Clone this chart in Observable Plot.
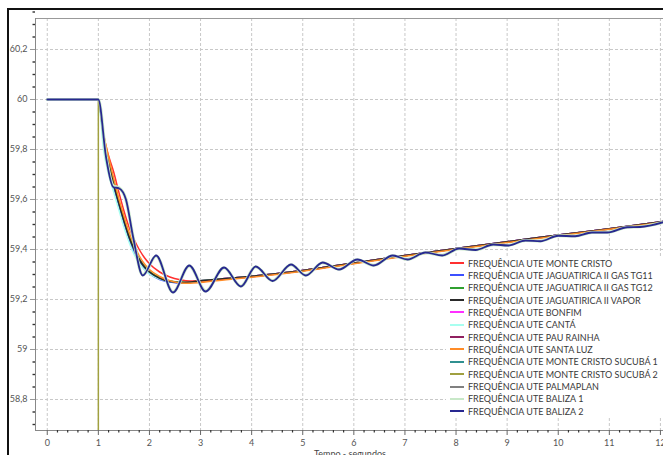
<!DOCTYPE html>
<html>
<head>
<meta charset="utf-8">
<script src="https://cdn.jsdelivr.net/npm/d3@7"></script>
<script src="https://cdn.jsdelivr.net/npm/@observablehq/plot@0.6"></script>
<style>
  html, body { margin: 0; padding: 0; background: #fff; }
  body { width: 663px; height: 455px; overflow: hidden; position: relative; font-family: Lato, "Open Sans", sans-serif; }
  #frame { position: absolute; left: 7px; top: 8px; width: 720px; height: 520px; border-left: 2px solid #111; border-top: 2px solid #111; }
  #chart { position: absolute; left: 0; top: 0; }
  #legend { position: absolute; left: 446px; top: 256px; width: 230px; height: 162px; background: #fff; }
  .row { position: absolute; left: 0; height: 12px; display: flex; align-items: center; white-space: nowrap; font-size: 9px; color: #3a3a3a; }
  .sw { width: 14px; height: 2px; margin-left: 4px; margin-right: 4px; }
  #xtitle { position: absolute; left: 300px; width: 100px; top: 449px; text-align: center; font-size: 9px; line-height: 10px; color: #444; }
</style>
</head>
<body>
<div id="frame"></div>
<div id="chart"></div>
<div id="legend"></div>
<div id="xtitle">Tempo - segundos</div>
<script>
// ---- Data ----
const seriesNames = [
  "FREQUÊNCIA UTE MONTE CRISTO",
  "FREQUÊNCIA UTE JAGUATIRICA II GAS TG11",
  "FREQUÊNCIA UTE JAGUATIRICA II GAS TG12",
  "FREQUÊNCIA UTE JAGUATIRICA II VAPOR",
  "FREQUÊNCIA UTE BONFIM",
  "FREQUÊNCIA UTE CANTÁ",
  "FREQUÊNCIA UTE PAU RAINHA",
  "FREQUÊNCIA UTE SANTA LUZ",
  "FREQUÊNCIA UTE MONTE CRISTO SUCUBÁ 1",
  "FREQUÊNCIA UTE MONTE CRISTO SUCUBÁ 2",
  "FREQUÊNCIA UTE PALMAPLAN",
  "FREQUÊNCIA UTE BALIZA 1",
  "FREQUÊNCIA UTE BALIZA 2"
];
const seriesColors = ["#ff3030", "#3c50ff", "#30a030", "#2a2a2a", "#ff30ff", "#a8fff0", "#902060",
  "#ff8c28", "#309090", "#a0a040", "#808080", "#c8e8c8", "#282890"];

const tMain = [0, 1, 1.1, 1.2, 1.3, 1.4, 1.5, 1.6, 1.7, 1.8, 1.9, 2.0, 2.2, 2.4, 2.6, 2.8, 3.0, 3.5, 4, 5, 6, 7, 8, 9, 10, 11, 12.1];
const monteCristo = [60, 60, 59.86, 59.775, 59.71, 59.63, 59.555, 59.49, 59.44, 59.4, 59.368, 59.343, 59.31, 59.29, 59.279, 59.274, 59.274, 59.282, 59.291, 59.315, 59.345, 59.375, 59.403, 59.43, 59.457, 59.482, 59.512];
const jagTG11 = [60, 60, 59.84, 59.74, 59.65, 59.575, 59.505, 59.44, 59.39, 59.35, 59.322, 59.303, 59.28, 59.27, 59.266, 59.268, 59.273, 59.282, 59.291, 59.315, 59.345, 59.375, 59.403, 59.43, 59.457, 59.482, 59.512];
const jagTG12 = [60, 60, 59.855, 59.76, 59.67, 59.59, 59.52, 59.455, 59.405, 59.363, 59.333, 59.312, 59.287, 59.274, 59.27, 59.271, 59.275, 59.283, 59.292, 59.315, 59.345, 59.375, 59.403, 59.43, 59.457, 59.482, 59.512];
const jagVapor = [60, 60, 59.85, 59.75, 59.66, 59.585, 59.515, 59.45, 59.4, 59.36, 59.33, 59.31, 59.285, 59.272, 59.268, 59.27, 59.275, 59.284, 59.293, 59.316, 59.346, 59.376, 59.404, 59.431, 59.458, 59.483, 59.513];
const bonfim = [60, 60, 59.85, 59.75, 59.66, 59.585, 59.515, 59.45, 59.4, 59.36, 59.33, 59.31, 59.285, 59.272, 59.268, 59.27, 59.275, 59.284, 59.293, 59.316, 59.346, 59.376, 59.404, 59.431, 59.458, 59.483, 59.513];
const canta = [60, 60, 59.8, 59.7, 59.63, 59.56, 59.49, 59.43, 59.38, 59.345, 59.32, 59.302, 59.282, 59.272, 59.268, 59.27, 59.275, 59.283, 59.292, 59.315, 59.345, 59.375, 59.403, 59.43, 59.457, 59.482, 59.512];
const pauRainha = [60, 60, 59.85, 59.752, 59.662, 59.587, 59.517, 59.452, 59.402, 59.362, 59.332, 59.311, 59.286, 59.273, 59.269, 59.27, 59.275, 59.284, 59.293, 59.316, 59.346, 59.376, 59.404, 59.431, 59.458, 59.483, 59.513];
const santaLuz = [60, 60, 59.865, 59.77, 59.685, 59.605, 59.535, 59.47, 59.418, 59.375, 59.343, 59.32, 59.292, 59.275, 59.266, 59.265, 59.268, 59.279, 59.289, 59.313, 59.343, 59.373, 59.401, 59.428, 59.455, 59.481, 59.51];
const sucuba1 = [60, 60, 59.848, 59.748, 59.658, 59.583, 59.513, 59.448, 59.398, 59.358, 59.329, 59.309, 59.284, 59.272, 59.268, 59.27, 59.275, 59.284, 59.293, 59.316, 59.346, 59.376, 59.404, 59.431, 59.458, 59.483, 59.513];
const palmaplan = [60, 60, 59.85, 59.75, 59.66, 59.585, 59.515, 59.45, 59.4, 59.36, 59.33, 59.31, 59.285, 59.272, 59.268, 59.27, 59.275, 59.284, 59.293, 59.316, 59.346, 59.376, 59.404, 59.431, 59.458, 59.483, 59.513];

const tSucuba2 = [0, 1, 1];
const sucuba2 = [60, 60, 57];

const tBaliza = [0, 1, 1.15, 1.29, 1.41, 1.54, 1.68, 1.87, 2.13, 2.46, 2.78, 3.1, 3.46, 3.79, 4.08, 4.41, 4.77, 5.06, 5.39, 5.71, 6.07, 6.39, 6.76, 7.05, 7.4, 7.73, 8.06, 8.38, 8.73, 9.02, 9.36, 9.65, 10.0, 10.33, 10.66, 10.96, 11.35, 11.6, 12.1];
const baliza1 = [60, 60, 59.775, 59.655, 59.646, 59.6, 59.45, 59.298, 59.374, 59.23, 59.334, 59.234, 59.327, 59.253, 59.331, 59.275, 59.339, 59.297, 59.347, 59.321, 59.359, 59.337, 59.375, 59.361, 59.387, 59.377, 59.403, 59.399, 59.419, 59.417, 59.436, 59.434, 59.455, 59.454, 59.468, 59.469, 59.489, 59.491, 59.511];
const baliza2 = [60, 60, 59.77, 59.65, 59.644, 59.6, 59.45, 59.296, 59.376, 59.228, 59.336, 59.232, 59.328, 59.252, 59.332, 59.274, 59.34, 59.296, 59.348, 59.32, 59.36, 59.336, 59.376, 59.36, 59.388, 59.376, 59.404, 59.398, 59.42, 59.416, 59.436, 59.433, 59.455, 59.453, 59.468, 59.468, 59.489, 59.49, 59.512];

const seriesData = [
  [tMain, monteCristo], [tMain, jagTG11], [tMain, jagTG12], [tMain, jagVapor], [tMain, bonfim],
  [tMain, canta], [tMain, pauRainha], [tMain, santaLuz], [tMain, sucuba1], [tSucuba2, sucuba2],
  [tMain, palmaplan], [tBaliza, baliza1], [tBaliza, baliza2]
];
// order in which the curves are painted (hidden ones first, visible ones on top)
const drawOrder = [10, 8, 6, 4, 1, 2, 5, 0, 3, 7, 9, 11, 12];

const xMajor = [0, 1, 2, 3, 4, 5, 6, 7, 8, 9, 10, 11, 12];
const xMinor = d3.range(0, 61).map(i => i / 5).filter(v => Math.abs(v - Math.round(v)) > 1e-9);
const yMajor = [58.8, 59, 59.2, 59.4, 59.6, 59.8, 60, 60.2];
const yMinor = d3.range(0, 34).map(i => +(58.7 + i * 0.05).toFixed(2)).filter(v => Math.abs(v * 5 - Math.round(v * 5)) > 1e-6);

// ---- Chart ----
const xDom = [-0.23, 12.06];
const yDom = [58.676, 60.324];
const fmt = d => String(+d.toFixed(1)).replace(".", ",");

const lineMarks = drawOrder.map(i => {
  const [ts, vs] = seriesData[i];
  const rows = ts.map((t, j) => ({t, v: vs[j]}));
  const isVertical = i === 9;
  const isNavy = i === 12;
  const isPale = i === 11;
  return Plot.line(rows, {
    x: "t", y: "v",
    stroke: seriesColors[i],
    strokeWidth: isNavy ? 1.8 : (isPale ? 3.2 : 1.5),
    curve: isVertical ? "linear" : "monotone-x",
    clip: true
  });
});

const chart = Plot.plot({
  width: 663, height: 455,
  marginLeft: 35, marginRight: 0, marginTop: 18, marginBottom: 25,
  style: {fontFamily: "Lato, 'Open Sans', sans-serif", fontSize: "9px", color: "#555", background: "transparent", overflow: "hidden"},
  x: {domain: xDom, axis: null},
  y: {domain: yDom, axis: null},
  marks: [
    Plot.gridX(xMajor, {stroke: "#c8c8c8", strokeOpacity: 1, strokeDasharray: "3,2"}),
    Plot.gridY(yMajor, {stroke: "#c8c8c8", strokeOpacity: 1, strokeDasharray: "3,2"}),
    Plot.ruleY([yDom[1]], {stroke: "#999", strokeWidth: 1.2}),
    ...lineMarks,
    Plot.ruleX([xDom[0]], {stroke: "#888"}),
    Plot.ruleY([yDom[0]], {stroke: "#888"}),
    Plot.axisY(yMajor, {tickSize: 5, tickPadding: 3, tickFormat: fmt, stroke: "#999", fill: "#555", label: null}),
    Plot.axisY(yMinor, {tickSize: 2.5, tickPadding: 0, tickFormat: () => "", stroke: "#333", strokeWidth: 1.4, label: null}),
    Plot.axisX(xMajor, {tickSize: 5, tickPadding: 4, tickFormat: d => String(d), stroke: "#666", fill: "#555", label: null}),
    Plot.axisX(xMinor, {tickSize: 2.5, tickPadding: 0, tickFormat: () => "", stroke: "#333", strokeWidth: 1.2, label: null})
  ]
});
document.getElementById("chart").appendChild(chart);

// ---- Legend ----
const legend = document.getElementById("legend");
seriesNames.forEach((name, i) => {
  const row = document.createElement("div");
  row.className = "row";
  row.style.top = (1 + i * 12.35) + "px";
  const sw = document.createElement("span");
  sw.className = "sw";
  sw.style.background = seriesColors[i];
  const tx = document.createElement("span");
  tx.textContent = name;
  row.appendChild(sw);
  row.appendChild(tx);
  legend.appendChild(row);
});
</script>
</body>
</html>
